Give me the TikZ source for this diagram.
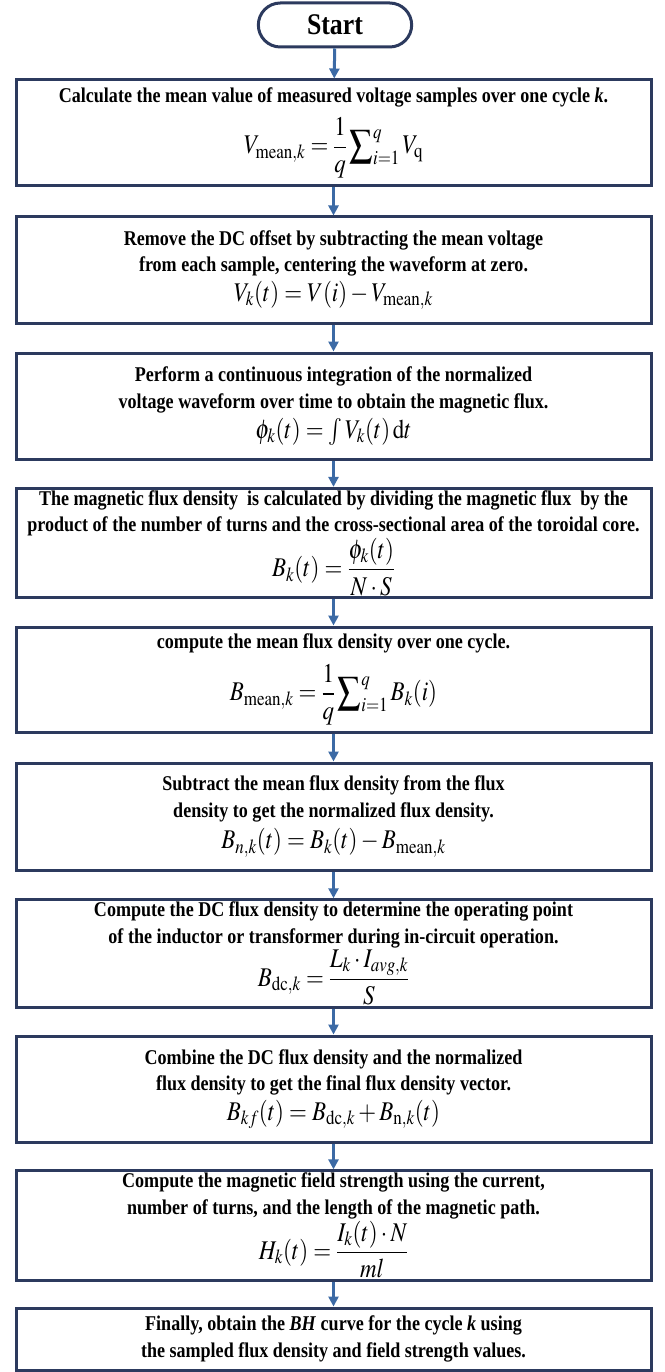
\documentclass[tikz,border=0pt]{standalone}
\usepackage{mathptmx}
\usepackage[no-math]{fontspec}
\setmainfont{Liberation Serif}[FakeStretch=0.86]
\usepackage{amsmath}
\usetikzlibrary{shapes.misc, arrows.meta, positioning}

\definecolor{boxline}{HTML}{2C3A5E}
\definecolor{flowblue}{HTML}{3C6AA5}

\newcommand{\eqn}[1]{{\fontsize{27}{30}\selectfont\scalebox{0.85}[1]{$\displaystyle #1$}}}

\begin{document}
\begin{tikzpicture}[
    x=1pt, y=-1pt,
    stepbox/.style={rectangle, draw=boxline, line width=3pt, fill=white, minimum width=635pt, align=center, inner sep=2pt, font=\fontsize{21}{26.5}\selectfont\bfseries},
    startbox/.style={rounded rectangle, draw=boxline, line width=3pt, minimum width=160pt, minimum height=44pt, font=\fontsize{30}{34}\selectfont\bfseries},
    flow/.style={-{Triangle[length=10pt,width=10pt]}, draw=flowblue, line width=3pt}
]
    \useasboundingbox (0,0) rectangle (664,1372);

    % Start
    \node[startbox] (start) at (335,25) {Start};

    % Processing steps
    \node[stepbox, minimum height=106pt] (vmean) at (333.5,133) {Calculate the mean value of measured voltage samples over one cycle \textit{k}.\\[9pt]
        \eqn{V_{\mathrm{mean},k} = \frac{1}{q}\sum\nolimits_{i=1}^{q} V_{\mathrm{q}}}};
    \node[stepbox, minimum height=106pt] (offset) at (333.5,270) {Remove the DC offset by subtracting the mean voltage\\ from each sample, centering the waveform at zero.\\[3pt]
        \eqn{V_k(t) = V(i) - V_{\mathrm{mean},k}}};
    \node[stepbox, minimum height=106pt] (integ) at (333.5,406) {Perform a continuous integration of the normalized\\ voltage waveform over time to obtain the magnetic flux.\\[4pt]
        \eqn{\phi_k(t) = \textstyle\int V_k(t)\,\mathrm{d}t}};
    \node[stepbox, minimum height=108pt] (fluxd) at (333.5,543) {The magnetic flux density\ \ is calculated by dividing the magnetic flux\ \ by the\\ product of the number of turns and the cross-sectional area of the toroidal core.\\[1pt]
        \eqn{B_k(t) = \frac{\phi_k(t)}{N\cdot S}}};
    \node[stepbox, minimum height=105pt] (bmean) at (333.5,679.5) {compute the mean flux density over one cycle.\\[10pt]
        \eqn{B_{\mathrm{mean},k} = \frac{1}{q}\sum\nolimits_{i=1}^{q} B_k(i)}};
    \node[stepbox, minimum height=107pt] (bnorm) at (333.5,816.5) {Subtract the mean flux density from the flux\\ density to get the normalized flux density.\\[5pt]
        \eqn{B_{n,k}(t) = B_k(t) - B_{\mathrm{mean},k}}};
    \node[stepbox, minimum height=107pt] (bdc) at (333.5,953.5) {Compute the DC flux density to determine the operating point\\ of the inductor or transformer during in-circuit operation.\\[1pt]
        \eqn{B_{\mathrm{dc},k} = \frac{L_k\cdot I_{avg,k}}{S}}};
    \node[stepbox, minimum height=106pt] (bfinal) at (333.5,1089) {Combine the DC flux density and the normalized\\ flux density to get the final flux density vector.\\[3pt]
        \eqn{B_{kf}(t) = B_{\mathrm{dc},k} + B_{\mathrm{n},k}(t)}};
    \node[stepbox, minimum height=107pt] (hfield) at (333.5,1225.5) {Compute the magnetic field strength using the current,\\ number of turns, and the length of the magnetic path.\\[1pt]
        \eqn{H_k(t) = \frac{I_k(t)\cdot N}{ml}}};
    \node[stepbox, minimum height=62pt] (bhcurve) at (333.5,1339) {Finally, obtain the \textit{BH} curve for the cycle \textit{k} using\\ the sampled flux density and field strength values.};

    % Arrows
    \draw[flow] (start) -- (vmean);
    \draw[flow] (vmean) -- (offset);
    \draw[flow] (offset) -- (integ);
    \draw[flow] (integ) -- (fluxd);
    \draw[flow] (fluxd) -- (bmean);
    \draw[flow] (bmean) -- (bnorm);
    \draw[flow] (bnorm) -- (bdc);
    \draw[flow] (bdc) -- (bfinal);
    \draw[flow] (bfinal) -- (hfield);
    \draw[flow] (hfield) -- (bhcurve);
\end{tikzpicture}
\end{document}
